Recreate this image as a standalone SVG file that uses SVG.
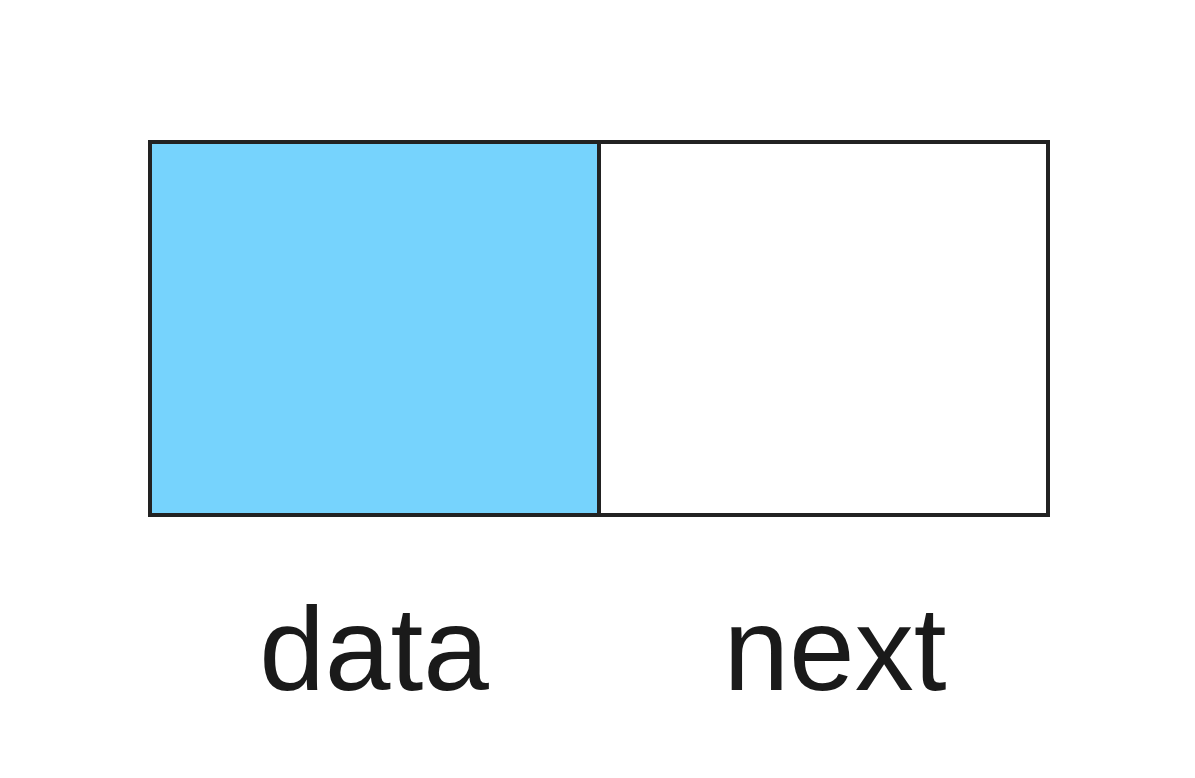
<svg xmlns="http://www.w3.org/2000/svg" width="1195" height="778" viewBox="0 0 1195 778">
<style>
.cell{stroke:#222;stroke-width:4}
.lbl{font-family:"Liberation Sans",Arial,sans-serif;font-size:118px;fill:#1a1a1a;text-anchor:middle}
</style>
<rect width="1195" height="778" fill="#fff"/>
<g id="data-node">
<rect class="cell" x="150" y="142" width="449" height="373" fill="#76d3fd"/>
<text class="lbl" x="374" y="690">data</text>
</g>
<g id="next-node">
<rect class="cell" x="599" y="142" width="449" height="373" fill="#fff"/>
<text class="lbl" x="835" y="690">next</text>
</g>
<g id="connectors"></g>
</svg>
